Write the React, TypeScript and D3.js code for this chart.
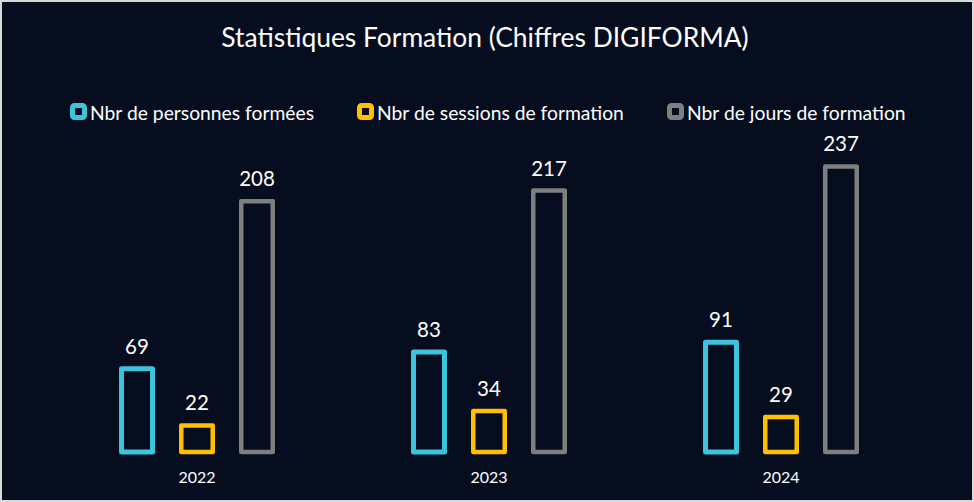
import React from "react";
import * as d3 from "d3";

const categories = ["2022", "2023", "2024"];
const seriesNames = ["Nbr de personnes formées", "Nbr de sessions de formation", "Nbr de jours de formation"];
const personnes = [69, 83, 91];
const sessions = [22, 34, 29];
const jours = [208, 217, 237];
const title = "Statistiques Formation (Chiffres DIGIFORMA)";

const W = 974;
const H = 502;
const colors = ["#3EC3DD", "#FFC000", "#7F7F7F"];
const strokes = [5, 4.5, 4.5];
const FONT = "Lato, 'Open Sans', sans-serif";

export default function App() {
  const seriesValues = [personnes, sessions, jours];
  const x0 = d3.scaleBand<string>().domain(categories).range([51, 927]);
  const x1 = d3.scaleBand<string>().domain(seriesNames).range([-78, 78]).paddingInner(0.4);
  const y = d3.scaleLinear().domain([0, 250]).range([452, 150.75]);

  const legendX = [70, 357, 667];

  return (
    <svg
      width={W}
      height={H}
      style={{ position: "absolute", left: 0, top: 0, display: "block" }}
      fontFamily={FONT}
    >
      <rect x={1} y={1} width={W - 2} height={H - 2} fill="#050D1F" stroke="#D9D9D9" strokeWidth={2} />
      <text x={485} y={47} textAnchor="middle" fill="#FFFFFF" fontSize={26.4}>
        {title}
      </text>
      {seriesNames.map((s, i) => (
        <g key={s}>
          <rect
            x={legendX[i] + 2.5}
            y={105.5}
            width={12}
            height={12}
            rx={2}
            fill="#050D1F"
            stroke={colors[i]}
            strokeWidth={5}
          />
          <text x={legendX[i] + 20} y={119.5} fill="#FFFFFF" fontSize={19.3}>
            {s}
          </text>
        </g>
      ))}
      {categories.map((c, ci) => {
        const cx = (x0(c) ?? 0) + x0.bandwidth() / 2;
        return (
          <g key={c}>
            {seriesNames.map((s, si) => {
              const v = seriesValues[si][ci];
              const sw = strokes[si];
              const bx = cx + (x1(s) ?? 0) + sw / 2;
              const bw = x1.bandwidth() - sw;
              const top = y(v);
              return (
                <g key={s}>
                  <rect
                    x={bx}
                    y={top}
                    width={bw}
                    height={y(0) - top}
                    fill="none"
                    stroke={colors[si]}
                    strokeWidth={sw}
                    strokeLinejoin="round"
                  />
                  <text
                    x={bx + bw / 2}
                    y={top - 15}
                    textAnchor="middle"
                    fill="#FFFFFF"
                    fontSize={20.5}
                  >
                    {v}
                  </text>
                </g>
              );
            })}
            <text x={cx} y={483} textAnchor="middle" fill="#FFFFFF" fontSize={16}>
              {c}
            </text>
          </g>
        );
      })}
    </svg>
  );
}
